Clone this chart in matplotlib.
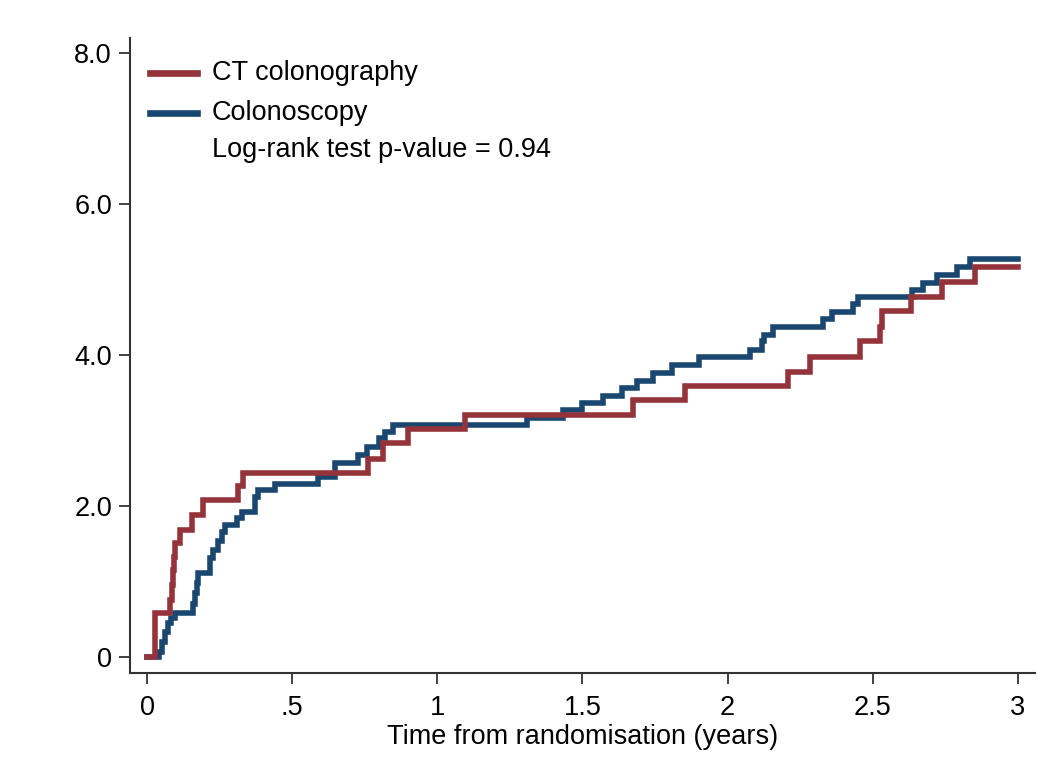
import matplotlib.pyplot as plt
from matplotlib.lines import Line2D

plt.rcParams['font.family'] = ['Liberation Sans', 'DejaVu Sans']

# cumulative incidence (%) step points
ct_t = [0, 0.028, 0.079, 0.085, 0.090, 0.094, 0.096, 0.114, 0.154, 0.194, 0.315, 0.332,
        0.761, 0.813, 0.899, 1.095, 1.674, 1.853, 2.208, 2.284, 2.456, 2.525, 2.530,
        2.630, 2.740, 2.852, 3.0]
ct_y = [0, 0.58, 0.75, 0.95, 1.15, 1.32, 1.51, 1.68, 1.88, 2.08, 2.26, 2.44,
        2.62, 2.83, 3.02, 3.20, 3.40, 3.59, 3.78, 3.97, 4.18, 4.37, 4.58,
        4.77, 4.97, 5.17, 5.17]

col_t = [0, 0.042, 0.050, 0.061, 0.073, 0.084, 0.096, 0.159, 0.165, 0.171, 0.177,
         0.217, 0.229, 0.246, 0.257, 0.268, 0.309, 0.326, 0.372, 0.383, 0.441,
         0.590, 0.648, 0.727, 0.757, 0.800, 0.820, 0.847, 1.310, 1.434, 1.500,
         1.570, 1.636, 1.688, 1.743, 1.810, 1.900, 2.077, 2.118, 2.125, 2.157,
         2.330, 2.360, 2.432, 2.449, 2.635, 2.673, 2.720, 2.790, 2.835, 3.0]
col_y = [0, 0.07, 0.20, 0.33, 0.45, 0.52, 0.58, 0.70, 0.85, 0.98, 1.11,
         1.31, 1.42, 1.53, 1.66, 1.75, 1.84, 1.92, 2.12, 2.21, 2.29,
         2.38, 2.57, 2.67, 2.78, 2.90, 2.98, 3.07, 3.17, 3.27, 3.36,
         3.46, 3.56, 3.66, 3.76, 3.87, 3.97, 4.07, 4.18, 4.27, 4.37,
         4.48, 4.57, 4.67, 4.77, 4.86, 4.95, 5.06, 5.17, 5.27, 5.27]

xticks = [0, 0.5, 1, 1.5, 2, 2.5, 3]
xticklabels = ['0', '.5', '1', '1.5', '2', '2.5', '3']
yticks = [0, 2, 4, 6, 8]
yticklabels = ['0', '2.0', '4.0', '6.0', '8.0']

red = '#95333b'
navy = '#1a476f'
fs = 19.5

fig = plt.figure(figsize=(10.5, 7.73), dpi=100)
ax = fig.add_axes([0.1238, 0.1294, 0.8619, 0.8214])

ax.step(col_t, col_y, where='post', color=navy, lw=4, solid_joinstyle='miter')
ax.step(ct_t, ct_y, where='post', color=red, lw=4, solid_joinstyle='miter')

ax.set_xlim(-0.0586, 3.0586)
ax.set_ylim(-0.212, 8.2)
ax.set_xticks(xticks)
ax.set_xticklabels(xticklabels)
ax.set_yticks(yticks)
ax.set_yticklabels(yticklabels)
ax.tick_params(labelsize=fs, length=8, width=1.3, color='#333333', pad=5)
ax.tick_params(axis='x', pad=8)
for s in ['top', 'right']:
    ax.spines[s].set_visible(False)
for s in ['left', 'bottom']:
    ax.spines[s].set_linewidth(1.5)
    ax.spines[s].set_color('#333333')
ax.set_xlabel('Time from randomisation (years)', fontsize=fs, labelpad=2)

# legend drawn in axes coordinates
for yy, c, lab in [(0.945, red, 'CT colonography'), (0.882, navy, 'Colonoscopy')]:
    ax.add_line(Line2D([0.022, 0.074], [yy, yy], transform=ax.transAxes, color=c, lw=4.8))
    ax.text(0.0906, yy, lab, transform=ax.transAxes, fontsize=fs, va='center')
ax.text(0.0906, 0.824, 'Log-rank test p-value = 0.94', transform=ax.transAxes,
        fontsize=fs, va='center')

fig.savefig('out.png', dpi=100)
